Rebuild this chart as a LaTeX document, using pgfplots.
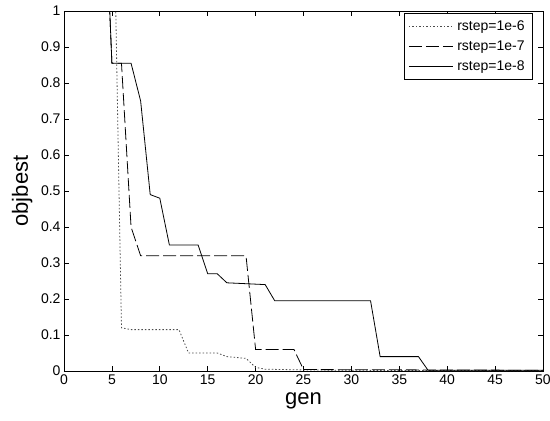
\documentclass[border=0pt]{standalone}
\usepackage{fontspec}
\setmainfont{Liberation Sans}
\usepackage{pgfplots}
\pgfplotsset{compat=1.18}
\begin{document}
\begin{tikzpicture}
\begin{axis}[
  at={(0,0)}, anchor=south west,
  scale only axis, width=479pt, height=360pt,
  xmin=0, xmax=50, ymin=0, ymax=1,
  xtick={0,5,10,15,20,25,30,35,40,45,50},
  ytick={0,0.1,0.2,0.3,0.4,0.5,0.6,0.7,0.8,0.9,1},
  tick align=inside, major tick length=5pt,
  tick style={black, line width=0.6pt},
  axis line style={line width=0.8pt},
  /pgf/number format/assume math mode=true,
  /pgf/number format/fixed,
  tick label style={font=\fontsize{14}{14}\selectfont},
  xlabel={gen}, ylabel={objbest},
  label style={font=\fontsize{22}{22}\selectfont},
  xlabel style={at={(axis description cs:0.5,-0.0917)}, anchor=base},
  ylabel style={at={(axis description cs:-0.0752,0.5)}, anchor=base, rotate=0},
  legend style={at={(0.979,0.994)}, anchor=north east, draw=black, line width=0.6pt,
    font=\fontsize{14}{14}\selectfont, legend cell align=left,
    row sep=9pt, inner xsep=4pt, inner ysep=7pt,
    nodes={inner xsep=4pt, inner ysep=0pt}},
  legend image code/.code={\draw[#1] (0pt,0pt) -- (44pt,0pt);},
]
\addplot[black!70, line width=0.8pt, dash pattern=on 1.5pt off 2pt] coordinates {
(5,1.6) (6,0.12) (7,0.115) (12,0.115) (13,0.05) (16,0.05) (17,0.04) (19,0.035) (20,0.01) (21,0.005) (25,0.003) (30,0.002) (40,0.001) (50,0.001)
};
\addlegendentry{rstep=1e-6}
\addplot[black, line width=0.8pt, dash pattern=on 13pt off 4pt] coordinates {
(4,1.5) (5,0.855) (6,0.855) (7,0.4) (8,0.32) (19,0.32) (20,0.06) (24,0.06) (25,0.004) (50,0.002)
};
\addlegendentry{rstep=1e-7}
\addplot[black, line width=0.8pt] coordinates {
(4,1.5) (5,0.855) (7,0.855) (8,0.75) (9,0.49) (10,0.48) (11,0.35) (14,0.35) (15,0.27) (16,0.27) (17,0.245) (21,0.24) (22,0.195) (32,0.195) (33,0.04) (37,0.04) (38,0.002) (50,0.002)
};
\addlegendentry{rstep=1e-8}
\end{axis}
\pgfresetboundingbox
\path[use as bounding box] (-64pt,-50pt) rectangle (486pt,371pt);
\end{tikzpicture}
\end{document}
